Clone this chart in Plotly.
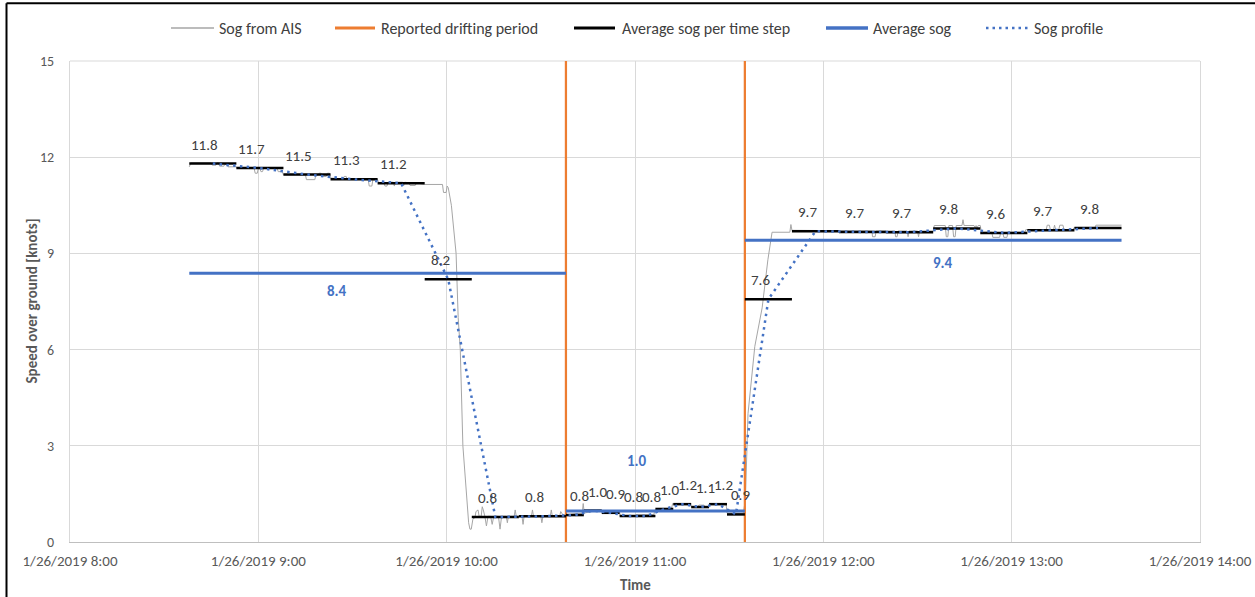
import plotly.graph_objects as go
import pandas as pd

DAY = "2019-01-26 "

# ---------------- data ----------------
ais_time = [
    "08:38:00", "08:38:30", "08:45:00", "08:45:20", "08:46:30", "08:46:50", "08:47:20", "08:47:40",
    "08:49:00", "08:49:20", "08:50:00", "08:50:20", "08:53:00",
    "08:53:20", "08:58:40", "08:59:00", "08:59:40", "09:00:00", "09:00:30", "09:00:50", "09:01:20",
    "09:01:40", "09:06:00", "09:06:20", "09:07:40",
    "09:08:00", "09:15:00", "09:15:20", "09:18:00", "09:18:20", "09:19:00", "09:19:20", "09:20:00",
    "09:20:20", "09:21:40", "09:22:00", "09:22:40", "09:23:00",
    "09:27:00", "09:27:20", "09:28:00", "09:28:20", "09:35:00", "09:35:20", "09:36:10", "09:36:30", "09:38:00",
    "09:38:20", "09:40:00", "09:40:20", "09:41:00", "09:41:20", "09:43:00", "09:43:20", "09:43:40",
    "09:46:00", "09:46:20", "09:46:40", "09:48:00", "09:48:20", "09:50:00", "09:50:20",
    "09:53:00", "09:58:40", "09:59:00", "09:59:50", "10:00:10", "10:00:30", "10:01:30", "10:02:20",
    "10:03:00", "10:03:40", "10:04:20", "10:05:10", "10:05:50", "10:06:30", "10:07:00", "10:07:25",
    "10:07:50", "10:08:20",
    "10:08:40", "10:09:00", "10:09:20", "10:10:00", "10:10:20", "10:11:00", "10:11:20", "10:11:40",
    "10:12:10", "10:12:40", "10:13:10", "10:14:00", "10:14:30", "10:15:00", "10:16:30", "10:17:00",
    "10:17:30", "10:19:00", "10:19:20", "10:19:40", "10:21:30", "10:21:50", "10:22:10", "10:24:00",
    "10:24:20", "10:24:40", "10:27:00", "10:27:20", "10:27:40", "10:30:00", "10:30:20", "10:30:40",
    "10:33:00", "10:33:20", "10:33:40", "10:36:00", "10:36:20", "10:37:00",
    "10:38:00", "10:41:00", "10:43:10", "10:43:30", "10:43:50", "10:46:00", "10:49:30", "10:50:00",
    "10:53:00", "10:53:30", "10:55:00", "10:55:20", "11:00:00", "11:00:20", "11:06:00", "11:06:20",
    "11:11:30", "11:12:00", "11:13:00", "11:13:30", "11:17:30", "11:18:00", "11:20:00", "11:20:20",
    "11:22:00", "11:22:20", "11:23:30", "11:24:00", "11:29:00", "11:29:20", "11:34:30",
    "11:35:10", "11:36:00", "11:38:10", "11:40:30", "11:42:20", "11:43:40", "11:49:20", "11:49:40",
    "11:50:00",
    "12:15:30", "12:15:40", "12:16:30", "12:16:50", "12:22:50", "12:23:00", "12:23:30", "12:23:50",
    "12:26:40", "12:27:00", "12:27:20", "12:30:00", "12:30:20", "12:30:40", "12:35:00", "12:35:20",
    "12:38:50", "12:39:10", "12:39:40", "12:40:00", "12:41:10", "12:41:30", "12:42:00", "12:42:20",
    "12:44:10", "12:44:30", "12:44:50", "12:48:00", "12:48:20", "12:48:40", "12:49:00", "12:49:20",
    "12:50:00", "12:50:20", "12:53:40", "12:54:00", "12:56:10", "12:56:30", "12:57:10", "12:57:30",
    "12:58:30", "12:58:50", "13:04:10", "13:04:30", "13:11:00", "13:11:20", "13:12:00", "13:12:20",
    "13:13:20", "13:13:40", "13:14:00", "13:15:00", "13:15:20", "13:16:20", "13:16:40", "13:19:30",
    "13:19:50", "13:26:30", "13:26:50", "13:35:00",
]
ais_sog = [
    11.70, 11.82, 11.82, 11.75, 11.75, 11.82, 11.82, 11.72,
    11.72, 11.78, 11.78, 11.70, 11.70,
    11.65, 11.65, 11.50, 11.50, 11.65, 11.65, 11.55, 11.55,
    11.65, 11.65, 11.55, 11.55,
    11.45, 11.45, 11.30, 11.30, 11.45, 11.45, 11.50, 11.50,
    11.40, 11.40, 11.50, 11.50, 11.35,
    11.32, 11.40, 11.40, 11.30, 11.30, 11.10, 11.10, 11.30, 11.30,
    11.20, 11.20, 11.10, 11.10, 11.22, 11.22, 11.10, 11.22,
    11.22, 11.12, 11.22, 11.20, 11.12, 11.12, 11.20,
    11.15, 11.15, 10.90, 10.90, 11.10, 11.05, 10.50, 9.60,
    9.00, 7.00, 6.00, 3.00, 2.00, 1.20, 0.60, 0.40,
    0.40, 0.70,
    0.75, 0.75, 0.95, 1.00, 0.80, 0.80, 1.10, 1.00,
    0.80, 0.50, 0.80, 0.80, 0.55, 0.80, 0.80, 0.40,
    0.80, 0.80, 0.60, 0.80, 0.80, 1.00, 0.80, 0.80,
    0.55, 0.80, 0.80, 1.00, 0.80, 0.80, 0.60, 0.80,
    0.80, 1.00, 0.80, 0.80, 0.95, 0.85,
    0.85, 0.88, 0.88, 1.20, 0.90, 0.95, 0.95, 0.90,
    0.90, 0.97, 0.97, 0.80, 0.80, 0.85, 0.85, 1.00,
    1.00, 1.20, 1.15, 1.20, 1.20, 1.10, 1.10, 1.15,
    1.15, 1.10, 1.10, 1.20, 1.20, 0.90, 0.90,
    1.30, 4.00, 6.10, 7.30, 8.80, 9.66, 9.66, 9.90,
    9.72,
    9.70, 9.52, 9.52, 9.70, 9.70, 9.52, 9.52, 9.70,
    9.70, 9.52, 9.70, 9.70, 9.52, 9.70, 9.70, 9.87,
    9.87, 9.52, 9.52, 9.87, 9.87, 9.52, 9.52, 9.87,
    9.87, 10.05, 9.87, 9.87, 9.80, 9.87, 9.80, 9.87,
    9.87, 9.66, 9.66, 9.50, 9.50, 9.66, 9.66, 9.50,
    9.50, 9.66, 9.66, 9.74, 9.74, 9.88, 9.88, 9.74,
    9.74, 9.88, 9.74, 9.74, 9.88, 9.88, 9.74, 9.74,
    9.80, 9.80, 9.88, 9.88,
]

drift_start = "10:38:00"
drift_end = "11:35:00"

step_start = [
    "08:38:00", "08:53:00", "09:08:00", "09:23:00", "09:38:00", "09:53:00", "10:08:00", "10:23:00",
    "10:38:00", "10:43:42", "10:49:24", "10:55:06", "11:00:48", "11:06:30", "11:12:12", "11:17:54",
    "11:23:36", "11:29:18",
    "11:35:00", "11:50:00", "12:05:00", "12:20:00", "12:35:00", "12:50:00", "13:05:00", "13:20:00",
]
step_end = [
    "08:53:00", "09:08:00", "09:23:00", "09:38:00", "09:53:00", "10:08:00", "10:23:00", "10:38:00",
    "10:43:42", "10:49:24", "10:55:06", "11:00:48", "11:06:30", "11:12:12", "11:17:54", "11:23:36",
    "11:29:18", "11:35:00",
    "11:50:00", "12:05:00", "12:20:00", "12:35:00", "12:50:00", "13:05:00", "13:20:00", "13:35:00",
]
step_sog = [
    11.80, 11.66, 11.46, 11.31, 11.19, 8.19, 0.78, 0.80,
    0.84, 0.98, 0.91, 0.81, 0.81, 1.03, 1.18, 1.09, 1.18, 0.86,
    7.57, 9.69, 9.67, 9.66, 9.78, 9.64, 9.72, 9.79,
]

avg_start = ["08:38:00", "10:38:00", "11:35:00"]
avg_end = ["10:38:00", "11:35:00", "13:35:00"]
avg_sog = [8.38, 0.97, 9.41]

x_tickvals = ["08:00", "09:00", "10:00", "11:00", "12:00", "13:00", "14:00"]
x_ticktext = ["1/26/2019 8:00", "1/26/2019 9:00", "1/26/2019 10:00", "1/26/2019 11:00",
              "1/26/2019 12:00", "1/26/2019 13:00", "1/26/2019 14:00"]
y_tickvals = [0, 3, 6, 9, 12, 15]

# label placement for the average-sog labels (layout only)
avg_label_time = ["09:25:00", "11:00:40", "12:38:10"]
avg_label_y = [7.82, 2.52, 8.69]


def T(s):
    return pd.Timestamp(DAY + s)


FONT = "Carlito, Calibri, Lato, sans-serif"
GREY_TXT = "#595959"
BLUE = "#4472C4"
ORANGE = "#ED7D31"
AIS_GREY = "#A6A6A6"

# plot area in page pixels
L, R, TOP, BOT = 70, 1200, 61, 542
W, H = R - L, BOT - TOP
FIG_W, FIG_H = 1255, 597


def px(x):
    return (x - L) / W


def py(y):
    return (BOT - y) / H


fig = go.Figure()

fig.add_trace(go.Scatter(
    x=[T(t) for t in ais_time], y=ais_sog, mode="lines", name="Sog from AIS",
    line=dict(color=AIS_GREY, width=1), hoverinfo="skip"))

fig.add_trace(go.Scatter(
    x=[T(drift_start), T(drift_start), None, T(drift_end), T(drift_end)],
    y=[0, 15, None, 0, 15], mode="lines", name="Reported drifting period",
    line=dict(color=ORANGE, width=2.25)))

sx, sy = [], []
for a, b, v in zip(step_start, step_end, step_sog):
    sx += [T(a), T(b), None]
    sy += [v, v, None]
fig.add_trace(go.Scatter(x=sx, y=sy, mode="lines", name="Average sog per time step",
                         line=dict(color="black", width=2.5)))

ax, ay = [], []
for a, b, v in zip(avg_start, avg_end, avg_sog):
    ax += [T(a), T(b), None]
    ay += [v, v, None]
fig.add_trace(go.Scatter(x=ax, y=ay, mode="lines", name="Average sog",
                         line=dict(color=BLUE, width=3)))

mids = [T(a) + (T(b) - T(a)) / 2 for a, b in zip(step_start, step_end)]
fig.add_trace(go.Scatter(x=mids, y=step_sog, mode="lines", name="Sog profile",
                         line=dict(color=BLUE, width=2.5, dash="2.5px,4.3px")))

annotations = []
for a, b, v, m in zip(step_start, step_end, step_sog, mids):
    dur = (T(b) - T(a)).total_seconds() / 60
    annotations.append(dict(
        x=m, y=v, text=f"{v:.1f}", showarrow=False, xshift=(5 if dur < 10 else -8), yshift=19,
        font=dict(family=FONT, size=15, color="#404040")))
for t, yv, v in zip(avg_label_time, avg_label_y, avg_sog):
    annotations.append(dict(
        x=T(t), y=yv, text=f"<b>{v:.1f}</b>", showarrow=False,
        font=dict(family=FONT, size=15, color=BLUE)))

# axis titles
annotations.append(dict(xref="paper", yref="paper", x=px(31), y=0.5, textangle=-90,
                        xanchor="center", yanchor="middle",
                        text="<b>Speed over ground [knots]</b>", showarrow=False,
                        font=dict(family=FONT, size=15, color=GREY_TXT)))
annotations.append(dict(xref="paper", yref="paper", x=0.5, y=py(585),
                        xanchor="center", yanchor="middle",
                        text="<b>Time</b>", showarrow=False,
                        font=dict(family=FONT, size=15, color=GREY_TXT)))

# legend (drawn manually to match the reference layout)
legend_names = [tr.name for tr in fig.data]
legend_line_x = [(171, 214), (335, 375), (574, 615), (826, 868), (986, 1029)]
legend_text_x = [217, 379, 620, 871, 1032]
legend_styles = [dict(color=AIS_GREY, width=1.5), dict(color=ORANGE, width=3),
                 dict(color="black", width=3), dict(color=BLUE, width=3.5),
                 dict(color=BLUE, width=2.5, dash="2.5px,4px")]
LEG_Y = 28
shapes = []
for (x0, x1), tx, st, nm in zip(legend_line_x, legend_text_x, legend_styles, legend_names):
    shapes.append(dict(type="line", xref="paper", yref="paper", x0=px(x0), x1=px(x1),
                       y0=py(LEG_Y), y1=py(LEG_Y), line=st))
    annotations.append(dict(xref="paper", yref="paper", x=px(tx), y=py(LEG_Y),
                            xanchor="left", yanchor="middle", text=nm, showarrow=False,
                            font=dict(family=FONT, size=16, color="#404040")))

# chart frame and plot-area edges
shapes += [
    dict(type="line", xref="paper", yref="paper", x0=px(6.5), x1=px(6.5), y0=py(3.3), y1=py(600),
         line=dict(color="black", width=2)),
    dict(type="line", xref="paper", yref="paper", x0=px(6.5), x1=px(1258), y0=py(3.3), y1=py(3.3),
         line=dict(color="black", width=2)),
    dict(type="line", xref="paper", yref="paper", x0=0, x1=1, y0=1, y1=1,
         line=dict(color="#D9D9D9", width=1), layer="below"),
]

fig.update_layout(
    width=FIG_W, height=FIG_H,
    margin=dict(l=L, r=FIG_W - R, t=TOP, b=FIG_H - BOT, autoexpand=False),
    paper_bgcolor="white", plot_bgcolor="white",
    font=dict(family=FONT, color=GREY_TXT, size=14),
    showlegend=False,
    annotations=annotations,
    shapes=shapes,
    xaxis=dict(
        range=[T("08:00"), T("14:00")], automargin=False,
        tickmode="array", tickvals=[T(t) for t in x_tickvals], ticktext=x_ticktext,
        showgrid=True, gridcolor="#D9D9D9", gridwidth=1,
        showline=True, linecolor="#BFBFBF", linewidth=1,
        ticks="", ticklabelstandoff=5, tickfont=dict(family=FONT, size=15, color=GREY_TXT),
        zeroline=False,
    ),
    yaxis=dict(
        range=[0, 15], tickmode="array", tickvals=y_tickvals, automargin=False,
        showgrid=True, gridcolor="#D9D9D9", gridwidth=1,
        showline=True, mirror=True, linecolor="#D9D9D9", linewidth=1,
        zeroline=False, ticks="", ticklabelstandoff=12,
        tickfont=dict(family=FONT, size=14, color=GREY_TXT),
    ),
)

fig.write_html("out.html", config={"displayModeBar": False},
               post_script="document.body.style.margin='0px';")
